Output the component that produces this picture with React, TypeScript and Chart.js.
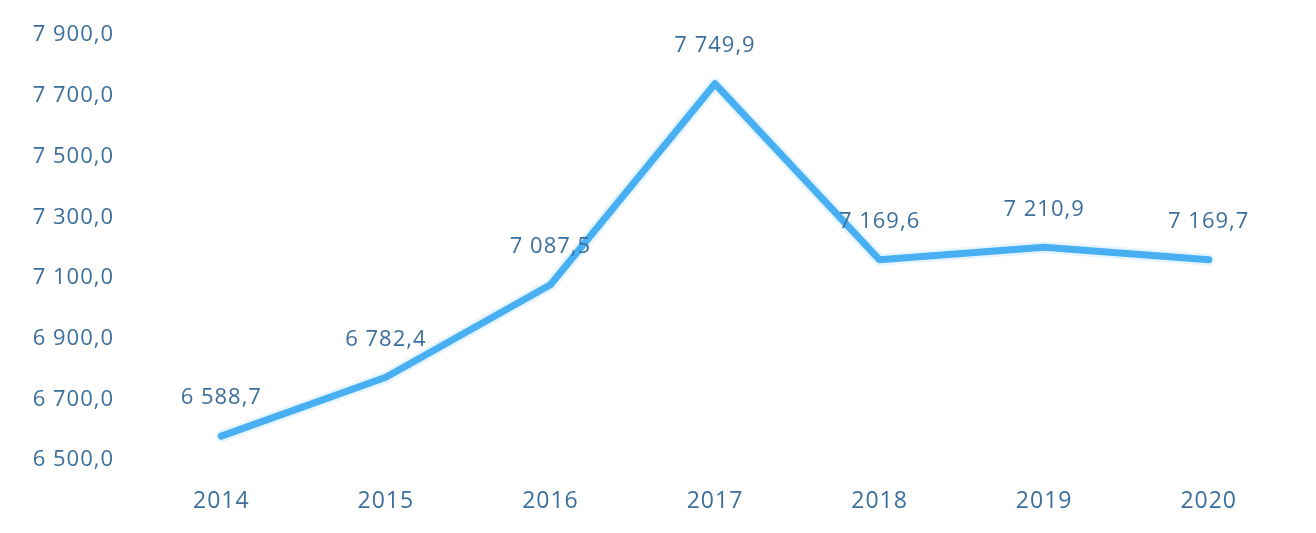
import React, { useEffect, useRef } from "react";
import { Chart, registerables } from "chart.js";

Chart.register(...registerables);

const categories: string[] = ["2014", "2015", "2016", "2017", "2018", "2019", "2020"];
const values: number[] = [6588.7, 6782.4, 7087.5, 7749.9, 7169.6, 7210.9, 7169.7];
const yTickValues: number[] = [6500, 6700, 6900, 7100, 7300, 7500, 7700, 7900];

const TEXT_COLOR = "#3d6f9c";
const LINE_COLOR = "#2ea5ef";
const FONT = "'Open Sans', 'DejaVu Sans', sans-serif";

const fmt = (v: number): string => {
  const fixed = v.toFixed(1);
  const [intPart, dec] = fixed.split(".");
  const withSep = intPart.replace(/\B(?=(\d{3})+(?!\d))/g, " ");
  return withSep + "," + dec;
};

const setSpacing = (chart: any) => {
  if (chart && chart.ctx) chart.ctx.letterSpacing = "1px";
};

const spacingPlugin = {
  id: "spacing",
  beforeUpdate: setSpacing,
  beforeLayout: setSpacing,
  beforeDraw: setSpacing,
  beforeDatasetsDraw: setSpacing,
};

const labelPlugin = {
  id: "pointLabels",
  afterDatasetsDraw(chart: any) {
    const ctx = chart.ctx;
    const meta = chart.getDatasetMeta(1);
    ctx.save();
    ctx.letterSpacing = "1px";
    ctx.font = `22px ${FONT}`;
    ctx.fillStyle = TEXT_COLOR;
    ctx.textAlign = "center";
    ctx.textBaseline = "middle";
    meta.data.forEach((pt: any, i: number) => {
      ctx.fillText(fmt(values[i]), pt.x, pt.y - 38);
    });
    ctx.restore();
  },
};

export default function App() {
  const canvasRef = useRef<HTMLCanvasElement | null>(null);

  useEffect(() => {
    document.body.style.margin = "0";
    const canvas = canvasRef.current;
    if (!canvas) return;
    const chart = new Chart(canvas, {
      type: "line",
      data: {
        labels: categories,
        datasets: [
          {
            data: values,
            borderColor: "rgba(150, 210, 250, 0.25)",
            borderWidth: 12,
            pointRadius: 0,
            tension: 0,
            borderJoinStyle: "round",
            borderCapStyle: "round",
          },
          {
            data: values,
            borderColor: LINE_COLOR,
            borderWidth: 7,
            pointRadius: 0,
            tension: 0,
            borderJoinStyle: "round",
            borderCapStyle: "round",
          },
        ],
      },
      options: {
        animation: false,
        responsive: false,
        maintainAspectRatio: false,
        layout: { padding: { top: 33, right: 25, bottom: 20, left: 0 } },
        plugins: {
          legend: { display: false },
          tooltip: { enabled: false },
        },
        scales: {
          x: {
            type: "category",
            offset: true,
            grid: { display: false, drawTicks: false },
            border: { display: false },
            ticks: {
              color: TEXT_COLOR,
              font: { family: FONT, size: 23 },
              padding: 25,
              maxRotation: 0,
            },
            afterFit(scale: any) {
              scale.height = 50;
            },
          },
          y: {
            min: 6500,
            max: 7900,
            grid: { display: false, drawTicks: false },
            border: { display: false },
            afterBuildTicks(scale: any) {
              scale.ticks = yTickValues.map((v) => ({ value: v }));
            },
            ticks: {
              color: TEXT_COLOR,
              font: { family: FONT, size: 22 },
              padding: 25,
              labelOffset: -3,
              callback: (v: any) => fmt(Number(v)),
            },
            afterFit(scale: any) {
              scale.width = 139;
            },
          },
        },
      },
      plugins: [spacingPlugin, labelPlugin],
    });
    return () => chart.destroy();
  }, []);

  return (
    <div style={{ width: 1316, height: 533, background: "#ffffff" }}>
      <canvas ref={canvasRef} width={1316} height={533} style={{ display: "block" }} />
    </div>
  );
}
